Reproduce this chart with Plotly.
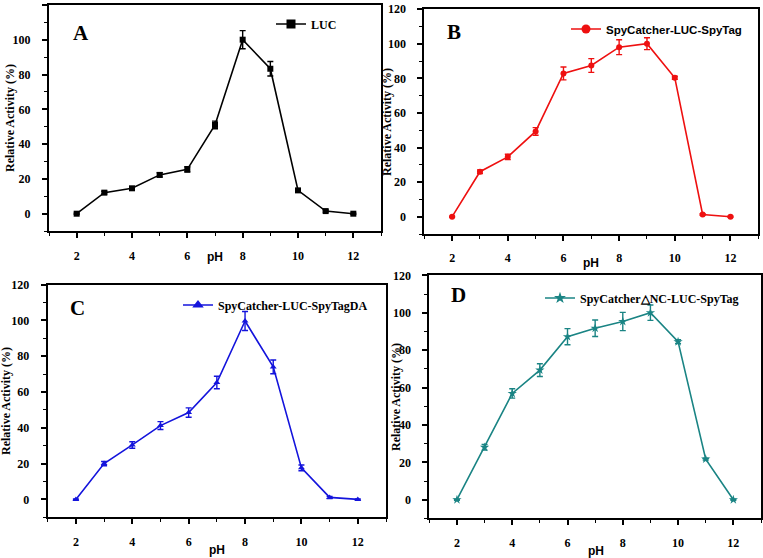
import plotly.graph_objects as go

W, H = 763, 558

ph = [2, 3, 4, 5, 6, 7, 8, 9, 10, 11, 12]

luc = [0, 12.1, 14.6, 22.3, 25.5, 51, 100, 83.3, 13.4, 1.5, 0]
luc_err = [0.3, 0.8, 0.9, 1.2, 1.5, 2.2, 5.2, 4.2, 1.0, 0.6, 0.3]

spy = [0, 26, 34.6, 49.3, 82.8, 87.4, 98, 100, 80.3, 1.3, 0]
spy_err = [0.3, 1.0, 1.5, 2.2, 3.7, 4.0, 4.3, 3.4, 0.9, 0.5, 0.3]

spyda = [0, 20, 30.4, 41.2, 48.5, 65.3, 99.6, 74, 17.6, 1.1, 0]
spyda_err = [0.3, 1.2, 1.8, 2.2, 2.6, 3.5, 5.3, 3.8, 1.6, 0.6, 0.3]

dnc = [0, 28, 56.8, 69.3, 87.2, 91.7, 95.3, 100, 84.5, 21.7, 0]
dnc_err = [0.3, 1.5, 2.5, 3.4, 4.3, 4.4, 4.9, 4.1, 1.0, 0.5, 0.3]

names = ["LUC", "SpyCatcher-LUC-SpyTag", "SpyCatcher-LUC-SpyTagDA", "SpyCatcher\u25b3NC-LUC-SpyTag"]
letters = ["A", "B", "C", "D"]
colors = ["#000000", "#ee1010", "#1414dc", "#1a8484"]
symbols = ["square", "circle", "triangle-up", "star"]
series = [luc, spy, spyda, dnc]
errors = [luc_err, spy_err, spyda_err, dnc_err]

x_ticks = [2, 4, 6, 8, 10, 12]
y_ticks = [0, 20, 40, 60, 80, 100, 120]

# panel boxes in pixels: left, right, top, bottom
boxes = [(49, 381, 4.9, 231.1), (424.3, 758.3, 9.1, 234.0),
         (47.7, 386.0, 284.5, 517.3), (429.3, 761.0, 275.3, 518.4)]

def px(x):
    return x / W

def py(y):
    return 1 - y / H

serif = "Liberation Serif, Times New Roman, serif"
sans = "Liberation Sans, Arial, sans-serif"

fig = go.Figure()
annotations = []

legend_specs = [
    dict(x=313, y=24, font=dict(family=serif, size=12, color="black", weight="bold")),
    dict(x=608, y=29, font=dict(family=sans, size=11.5, color="black", weight="bold")),
    dict(x=220, y=305, font=dict(family=serif, size=12, color="black", weight="bold")),
    dict(x=582, y=298, font=dict(family=serif, size=12, color="black", weight="bold")),
]
letter_pos = [(81, 33), (454, 32), (77, 308), (459, 295)]
xtitle_pos = [(215, 257), (591, 263), (217, 550), (596, 551)]
ytitle_pos = [(10, 118), (387, 122), (6, 401), (396, 397)]

layout = dict(width=W, height=H, margin=dict(l=0, r=0, t=0, b=0, autoexpand=False),
              paper_bgcolor="white", plot_bgcolor="white", showlegend=True)

def ann(text, x, y, font, angle=0):
    return dict(text=text, x=px(x), y=py(y), xref="paper", yref="paper", showarrow=False,
                xanchor="center", yanchor="middle", textangle=angle, font=font)

for i in range(4):
    n = "" if i == 0 else str(i + 1)
    xa, ya = "x" + n, "y" + n
    lg = "legend" + n
    fig.add_trace(go.Scatter(
        x=ph, y=series[i], mode="lines+markers", xaxis=xa, yaxis=ya,
        line=dict(color=colors[i], width=1.6),
        marker=dict(symbol=symbols[i], size=6 if i != 3 else 7, color=colors[i]),
        error_y=dict(type="data", array=errors[i], color=colors[i], thickness=1.4, width=3),
        showlegend=False, name=names[i]))
    fig.add_trace(go.Scatter(
        x=[None], y=[None], mode="lines+markers", xaxis=xa, yaxis=ya,
        line=dict(color=colors[i], width=1.6),
        marker=dict(symbol=symbols[i], size=9 if i != 2 else 10, color=colors[i]),
        name=names[i], legend=lg, showlegend=True))
    l, r, t, b = boxes[i]
    axis_common = dict(showline=True, linecolor="black", linewidth=2, mirror=True,
                       ticks="outside", tickcolor="black", tickwidth=1.5, ticklen=5,
                       showgrid=False, zeroline=False,
                       tickfont=dict(family=serif, size=12, color="black", weight="bold"))
    layout["xaxis" + n] = dict(domain=[px(l), px(r)], anchor=ya, range=[1, 13],
                               tickvals=x_ticks, ticklabelstandoff=7,
                               minor=dict(tickvals=[1, 3, 5, 7, 9, 11, 13], ticks="outside",
                                          ticklen=3, tickwidth=1.3, tickcolor="black"),
                               **axis_common)
    layout["yaxis" + n] = dict(domain=[py(b), py(t)], anchor=xa, range=[-10, 120],
                               tickvals=y_ticks, ticklabelstandoff=9,
                               minor=dict(tickvals=[-10, 10, 30, 50, 70, 90, 110],
                                          ticks="outside", ticklen=3, tickwidth=1.3,
                                          tickcolor="black"),
                               **axis_common)
    ls = legend_specs[i]
    layout[lg] = dict(x=px(ls["x"] - 42), y=py(ls["y"]), xanchor="left", yanchor="middle",
                      bgcolor="rgba(0,0,0,0)", font=ls["font"], borderwidth=0)
    lx, ly = letter_pos[i]
    annotations.append(ann("<b>%s</b>" % letters[i], lx, ly,
                           dict(family=serif, size=21, color="black")))
    tx, ty = xtitle_pos[i]
    annotations.append(ann("<b>pH</b>", tx, ty, dict(family=sans, size=12, color="black")))
    yx, yy = ytitle_pos[i]
    annotations.append(ann("<b>Relative Activity (%)</b>", yx, yy,
                           dict(family=serif, size=12, color="black"), angle=-90))

layout["annotations"] = annotations
fig.update_layout(**layout)
fig.write_html("out.html", post_script="document.body.style.margin='0px';",
               config={"displayModeBar": False})
